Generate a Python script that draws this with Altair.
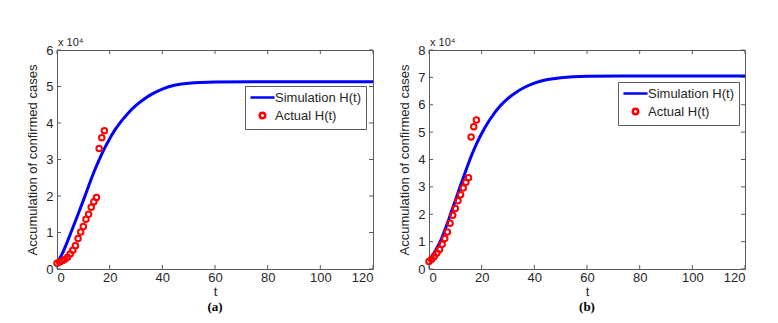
import altair as alt
import pandas as pd

# ---- data (values in units of 10^4) ----
t_actual = list(range(19))
actual_a = [0.159, 0.191, 0.226, 0.264, 0.322, 0.411, 0.514, 0.638, 0.835, 1.012,
            1.162, 1.360, 1.498, 1.690, 1.845, 1.956, 3.299, 3.599, 3.791]
actual_b = [0.271, 0.355, 0.459, 0.581, 0.715, 0.907, 1.118, 1.352, 1.668, 1.967,
            2.211, 2.495, 2.710, 2.963, 3.173, 3.337, 4.821, 5.199, 5.441]

t_sim = [0, 2, 4, 6, 8, 10, 12, 14, 16, 18, 20, 22, 24, 27, 30, 33, 36, 40, 45, 50, 60, 80, 100, 120]
sim_a = [0.17, 0.42, 0.76, 1.13, 1.50, 1.88, 2.27, 2.65, 2.99, 3.30, 3.57, 3.81, 4.01, 4.27,
         4.48, 4.65, 4.79, 4.93, 5.04, 5.09, 5.12, 5.13, 5.13, 5.13]
sim_b = [0.30, 0.60, 0.95, 1.42, 1.95, 2.50, 3.06, 3.60, 4.11, 4.56, 4.95, 5.29, 5.58, 5.95,
         6.23, 6.45, 6.62, 6.79, 6.92, 6.99, 7.04, 7.05, 7.05, 7.05]

x_ticks = [0, 20, 40, 60, 80, 100, 120]
y_ticks_a = [0, 1, 2, 3, 4, 5, 6]
y_ticks_b = [0, 1, 2, 3, 4, 5, 6, 7, 8]
series_names = ["Simulation H(t)", "Actual H(t)"]
exponent_label = ["x 10\u2074"]
captions = ["(a)", "(b)"]
y_title = "Accumulation of confirmed cases"

W, H = 316, 219
FONT = "Liberation Sans"
TXT = "#262626"
BOX = "#5a5a5a"
LFS = 13


def legend(lx, ly):
    return alt.Legend(title=None, orient="none", legendX=lx, legendY=ly,
                      symbolStrokeWidth=2.5, symbolSize=30,
                      labelFont=FONT, labelFontSize=LFS, labelColor=TXT,
                      strokeColor=BOX, fillColor="white", padding=5,
                      rowPadding=2, labelOffset=6, symbolOffset=6)


def panel(sim, actual, y_ticks, caption, lx, ly):
    ymax = y_ticks[-1]
    sim_df = pd.DataFrame({"t": t_sim, "v": sim, "series": series_names[0]})
    act_df = pd.DataFrame({"t": t_actual, "v": actual, "series": series_names[1]})
    xs = alt.Scale(domain=[0, 120], nice=False, zero=False)
    ys = alt.Scale(domain=[0, ymax], nice=False)
    xaxis = alt.Axis(values=x_ticks, title="t", tickSize=0, domain=False, grid=False,
                     labelPadding=2, titlePadding=1, labelOverlap=False)
    yaxis = alt.Axis(values=y_ticks, title=y_title, tickSize=0, domain=False,
                     grid=False, labelPadding=4, titlePadding=6, labelOverlap=False)
    X = lambda f: alt.X(f, scale=xs, axis=xaxis)
    Y = lambda f: alt.Y(f, scale=ys, axis=yaxis)
    color = alt.Color("series:N",
                      scale=alt.Scale(domain=series_names, range=["#0000ff", "#ff0000"]),
                      legend=legend(lx, ly))
    shape = alt.Shape("series:N",
                      scale=alt.Scale(domain=series_names, range=["M-4.4,0H4.4", "circle"]),
                      legend=legend(lx, ly))

    line = alt.Chart(sim_df).mark_line(strokeWidth=3, interpolate="monotone", clip=True).encode(
        x=X("t:Q"), y=Y("v:Q"), color=color,
    )
    pts = alt.Chart(act_df).mark_point(filled=False, size=30, strokeWidth=2, opacity=1).encode(
        x=X("t:Q"), y=Y("v:Q"), color=color, shape=shape,
    )
    xt = pd.DataFrame({"t": x_ticks})
    yt = pd.DataFrame({"v": y_ticks})
    tick_b = alt.Chart(xt).mark_rule(color=BOX).encode(x=X("t:Q"), y=alt.value(H), y2=alt.value(H - 4))
    tick_t = alt.Chart(xt).mark_rule(color=BOX).encode(x=X("t:Q"), y=alt.value(0), y2=alt.value(4))
    tick_l = alt.Chart(yt).mark_rule(color=BOX).encode(y=Y("v:Q"), x=alt.value(0), x2=alt.value(4))
    tick_r = alt.Chart(yt).mark_rule(color=BOX).encode(y=Y("v:Q"), x=alt.value(W), x2=alt.value(W - 4))
    expo = alt.Chart(pd.DataFrame({"s": exponent_label})).mark_text(
        align="left", baseline="bottom", font=FONT, fontSize=11, color=TXT, dx=1, dy=-2
    ).encode(text="s:N", x=alt.value(0), y=alt.value(0))

    return alt.layer(line, pts, tick_b, tick_t, tick_l, tick_r, expo).properties(
        width=W, height=H,
        title=alt.TitleParams(caption, orient="bottom", font="Liberation Serif", fontWeight="bold",
                              fontSize=13, color="#000000", offset=3),
    ).resolve_scale(color="shared", shape="shared")


pa = panel(sim_a, actual_a, y_ticks_a, captions[0], 188, 36)
pb = panel(sim_b, actual_b, y_ticks_b, captions[1], 189, 32)

chart = alt.hconcat(pa, pb, spacing=24).resolve_scale(
    y="independent", color="independent", shape="independent"
).resolve_legend(color="independent", shape="independent").properties(
    padding={"left": 18, "top": 28, "right": 0, "bottom": 0},
    background="white",
).configure_view(stroke=BOX, strokeWidth=1).configure_axis(
    labelFont=FONT, labelFontSize=13, labelColor=TXT,
    titleFont=FONT, titleFontSize=13, titleColor=TXT, titleFontWeight="normal",
).configure_legend(
    labelFont=FONT, labelFontSize=LFS, labelColor=TXT, labelLimit=300,
)

chart.save("out.html", embed_options={"renderer": "svg", "actions": False})
